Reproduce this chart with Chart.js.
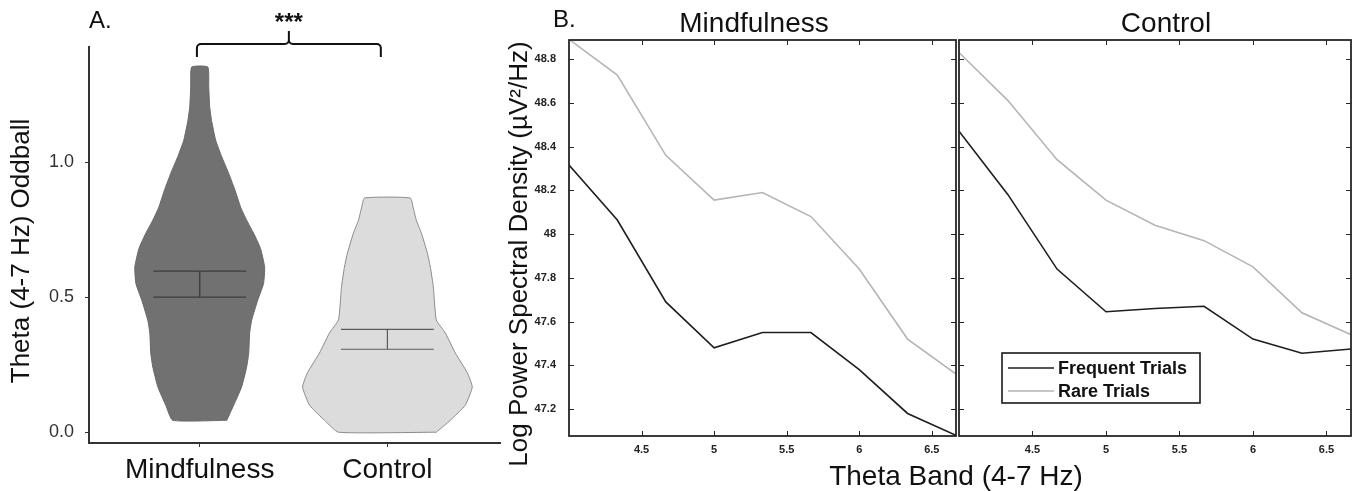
<!DOCTYPE html>
<html>
<head>
<meta charset="utf-8">
<script src="https://cdn.jsdelivr.net/npm/chart.js"></script>
<style>
body { margin: 0; background: #fff; width: 1360px; height: 491px; position: relative; overflow: hidden; }
canvas { position: absolute; top: 0; }
#violin { left: 0; }
#psdMind { left: 505px; }
#psdCtrl { left: 958px; }
</style>
</head>
<body>
<canvas id="violin" width="505" height="491"></canvas>
<canvas id="psdMind" width="855" height="491"></canvas>
<canvas id="psdCtrl" width="402" height="491"></canvas>
<script>
// Panel A: theta oddball effect per group (violin + mean/SE)
var groups = ["Mindfulness", "Control"];
var mindLevels  = [0.044, 0.10, 0.167, 0.241, 0.293, 0.367, 0.415, 0.489, 0.55, 0.611, 0.68, 0.737, 0.785, 0.833, 0.90, 0.959, 1.02, 1.081, 1.15, 1.204, 1.28, 1.352];
var mindDensity = [0.144, 0.181, 0.223, 0.250, 0.261, 0.266, 0.277, 0.309, 0.340, 0.346, 0.324, 0.287, 0.250, 0.218, 0.186, 0.154, 0.117, 0.085, 0.064, 0.053, 0.048, 0.043];
var ctrlLevels  = [0.0, 0.044, 0.10, 0.167, 0.22, 0.293, 0.367, 0.415, 0.489, 0.537, 0.611, 0.663, 0.737, 0.785, 0.83, 0.867];
var ctrlDensity = [0.261, 0.335, 0.415, 0.452, 0.426, 0.362, 0.309, 0.261, 0.250, 0.245, 0.229, 0.213, 0.181, 0.154, 0.138, 0.122];
var seUpper = [0.596, 0.381];
var seLower = [0.500, 0.307];
var violinTicks = [0, 0.5, 1.0];

// Panel B: log power spectral density over the theta band
var freqs = [4, 4.333, 4.667, 5, 5.333, 5.667, 6, 6.333, 6.667];
var mindFrequent = [48.315, 48.064, 47.69, 47.48, 47.55, 47.55, 47.38, 47.18, 47.08];
var mindRare     = [48.89, 48.727, 48.36, 48.155, 48.19, 48.08, 47.84, 47.52, 47.36];
var ctrlFrequent = [48.47, 48.18, 47.84, 47.645, 47.66, 47.67, 47.52, 47.455, 47.475];
var ctrlRare     = [48.83, 48.61, 48.34, 48.155, 48.04, 47.97, 47.85, 47.64, 47.54];
var psdTicks  = [47.2, 47.4, 47.6, 47.8, 48, 48.2, 48.4, 48.6, 48.8];
var bandTicks = [4.5, 5, 5.5, 6, 6.5];

var FONT = "'Liberation Sans', Arial, Helvetica, sans-serif";
Chart.defaults.font.family = FONT;

function violinOutline(pos, levels, dens) {
    var pts = [];
    for (var i = 0; i < levels.length; i++) {
        pts.push({x: pos + dens[i], y: levels[i]});
    }
    for (var j = levels.length - 1; j >= 0; j--) {
        pts.push({x: pos - dens[j], y: levels[j]});
    }
    pts.push(pts[0]);
    return pts;
}

function seBars(pos, up, lo) {
    var h = 0.247;
    return [
        {x: pos - h, y: up}, {x: pos + h, y: up}, {x: pos, y: null},
        {x: pos - h, y: lo}, {x: pos + h, y: lo}, {x: pos, y: null},
        {x: pos, y: up}, {x: pos, y: lo}
    ];
}

function xy(vals) {
    return freqs.map(function(f, i) { return {x: f, y: vals[i]}; });
}

function fixTicks(list) {
    return function(scale) {
        scale.ticks = list.map(function(v) { return {value: v}; });
    };
}

function text(ctx, str, x, y, font, align, color) {
    ctx.save();
    ctx.font = font;
    ctx.fillStyle = color || '#111';
    ctx.textAlign = align || 'left';
    ctx.textBaseline = 'alphabetic';
    ctx.fillText(str, x, y);
    ctx.restore();
}

function vtext(ctx, str, x, y, font) {
    ctx.save();
    ctx.translate(x, y);
    ctx.rotate(-Math.PI / 2);
    ctx.font = font;
    ctx.fillStyle = '#111';
    ctx.textAlign = 'center';
    ctx.textBaseline = 'middle';
    ctx.fillText(str, 0, 0);
    ctx.restore();
}

// panel A extras: letter, y title, significance bracket
var violinDecor = {
    id: 'violinDecor',
    afterDraw: function(chart) {
        var ctx = chart.ctx, ca = chart.chartArea, xs = chart.scales.x;
        text(ctx, 'A.', ca.left, ca.top - 19, '24px ' + FONT);
        vtext(ctx, 'Theta (4-7 Hz) Oddball', 22, 251, '26px ' + FONT);

        var l = xs.getPixelForValue(0.985), r = xs.getPixelForValue(1.965);
        var m = (l + r) / 2, top = ca.top - 3, leg = ca.top + 10, rad = 4;
        ctx.save();
        ctx.strokeStyle = '#111';
        ctx.lineWidth = 2;
        ctx.beginPath();
        ctx.moveTo(l, leg);
        ctx.arcTo(l, top, l + rad, top, rad);
        ctx.lineTo(m - rad, top);
        ctx.arcTo(m, top, m, top - rad, rad);
        ctx.lineTo(m, ca.top - 16);
        ctx.moveTo(m, top - rad);
        ctx.arcTo(m, top, m + rad, top, rad);
        ctx.lineTo(r - rad, top);
        ctx.arcTo(r, top, r, top + rad, rad);
        ctx.lineTo(r, leg);
        ctx.stroke();
        ctx.restore();
        text(ctx, '***', m, ca.top - 17, 'bold 24px ' + FONT, 'center');
    }
};

new Chart(document.getElementById('violin'), {
    type: 'scatter',
    data: {
        datasets: [
            {
                label: groups[0],
                data: violinOutline(1, mindLevels, mindDensity),
                showLine: true, fill: 'shape', tension: 0.15, order: 2,
                backgroundColor: '#717171', borderColor: '#686868', borderWidth: 1,
                pointRadius: 0
            },
            {
                label: groups[1],
                data: violinOutline(2, ctrlLevels, ctrlDensity),
                showLine: true, fill: 'shape', tension: 0.15, order: 2,
                backgroundColor: '#dcdcdc', borderColor: '#8a8a8a', borderWidth: 1,
                pointRadius: 0
            },
            {
                label: groups[0] + ' mean \u00b1 SE',
                data: seBars(1, seUpper[0], seLower[0]),
                showLine: true, spanGaps: false, fill: false, order: 1,
                borderColor: '#3c3c3c', borderWidth: 1.3, pointRadius: 0
            },
            {
                label: groups[1] + ' mean \u00b1 SE',
                data: seBars(2, seUpper[1], seLower[1]),
                showLine: true, spanGaps: false, fill: false, order: 1,
                borderColor: '#5a5a5a', borderWidth: 1.2, pointRadius: 0
            }
        ]
    },
    options: {
        responsive: false,
        animation: false,
        devicePixelRatio: 1,
        layout: { padding: { top: 47, right: 5, left: 0, bottom: 0 } },
        plugins: { legend: { display: false }, tooltip: { enabled: false } },
        scales: {
            x: {
                type: 'linear', min: 0.41, max: 2.6,
                afterBuildTicks: fixTicks([1, 2]),
                afterFit: function(s) { s.height = 48; },
                ticks: {
                    callback: function(v) { return groups[v - 1]; },
                    font: { size: 28 }, color: '#111', padding: 6,
                    maxRotation: 0, autoSkip: false
                },
                grid: { drawOnChartArea: false, drawTicks: true, tickLength: 4, color: '#333' },
                border: { color: '#333', width: 2 }
            },
            y: {
                min: -0.04, max: 1.426,
                afterBuildTicks: fixTicks(violinTicks),
                afterFit: function(s) { s.width = 89; },
                ticks: {
                    callback: function(v) { return v.toFixed(1); },
                    font: { size: 18 }, color: '#333', padding: 11
                },
                grid: { drawOnChartArea: false, drawTicks: true, tickLength: 4, color: '#333' },
                border: { color: '#333', width: 2 }
            }
        }
    },
    plugins: [violinDecor]
});

// MATLAB-like box with inward ticks, plus per-panel labels
var matlabBox = {
    id: 'matlabBox',
    afterDraw: function(chart, args, opts) {
        var ctx = chart.ctx, ca = chart.chartArea;
        var xs = chart.scales.x, ys = chart.scales.y, tl = 5;
        ctx.save();
        ctx.strokeStyle = '#262626';
        ctx.lineWidth = 1;
        ctx.beginPath();
        xs.ticks.forEach(function(t) {
            var px = Math.round(xs.getPixelForValue(t.value)) + 0.5;
            ctx.moveTo(px, ca.bottom); ctx.lineTo(px, ca.bottom - tl);
            ctx.moveTo(px, ca.top); ctx.lineTo(px, ca.top + tl);
        });
        ys.ticks.forEach(function(t) {
            var py = Math.round(ys.getPixelForValue(t.value)) + 0.5;
            ctx.moveTo(ca.left, py); ctx.lineTo(ca.left + tl, py);
            ctx.moveTo(ca.right, py); ctx.lineTo(ca.right - tl, py);
        });
        ctx.stroke();
        ctx.lineWidth = 1.8;
        ctx.strokeRect(ca.left, ca.top, ca.right - ca.left, ca.bottom - ca.top);
        ctx.restore();

        text(ctx, opts.title, ca.left + opts.titleDx, 32, '28px ' + FONT, 'center');
        if (opts.letter) {
            text(ctx, opts.letter, ca.left - 16, 27, '24px ' + FONT);
            vtext(ctx, 'Log Power Spectral Density (\u00b5V\u00b2/Hz)', ca.left - 49, (ca.top + ca.bottom) / 2 + 16, '26px ' + FONT);
            text(ctx, 'Theta Band (4-7 Hz)', ca.right, ca.bottom + 49, '28px ' + FONT, 'center');
        }
        if (opts.legend) {
            var bx = ca.left + 43, by = 353, bw = 198, bh = 50;
            ctx.save();
            ctx.fillStyle = '#fff';
            ctx.fillRect(bx, by, bw, bh);
            ctx.strokeStyle = '#1a1a1a';
            ctx.lineWidth = 1.6;
            ctx.strokeRect(bx, by, bw, bh);
            chart.data.datasets.forEach(function(ds, i) {
                var ly = by + 15 + i * 23;
                ctx.strokeStyle = ds.borderColor;
                ctx.lineWidth = ds.borderWidth;
                ctx.beginPath();
                ctx.moveTo(bx + 6, ly); ctx.lineTo(bx + 52, ly);
                ctx.stroke();
                ctx.font = 'bold 18px ' + FONT;
                ctx.fillStyle = '#111';
                ctx.textBaseline = 'middle';
                ctx.fillText(ds.label, bx + 56, ly + 1);
            });
            ctx.restore();
        }
    }
};

function psdChart(id, frequent, rare, pad, showY, boxOpts) {
    return new Chart(document.getElementById(id), {
        type: 'scatter',
        data: {
            datasets: [
                { label: 'Frequent Trials', data: xy(frequent), showLine: true, borderColor: '#1e1e1e', borderWidth: 1.6, pointRadius: 0, tension: 0 },
                { label: 'Rare Trials', data: xy(rare), showLine: true, borderColor: '#b5b5b5', borderWidth: 1.6, pointRadius: 0, tension: 0 }
            ]
        },
        options: {
            responsive: false,
            animation: false,
            devicePixelRatio: 1,
            layout: { padding: pad },
            plugins: { legend: { display: false }, tooltip: { enabled: false }, matlabBox: boxOpts },
            scales: {
                x: {
                    type: 'linear', min: 4, max: 6.6667,
                    afterBuildTicks: fixTicks(bandTicks),
                    afterFit: function(s) { s.height = 55; },
                    ticks: {
                        callback: function(v) { return String(v); },
                        font: { size: 11, weight: 'bold' }, color: '#222', padding: 7,
                        maxRotation: 0, autoSkip: false
                    },
                    grid: { drawOnChartArea: false, drawTicks: false },
                    border: { display: false }
                },
                y: {
                    min: 47.077, max: 48.887,
                    afterBuildTicks: fixTicks(psdTicks),
                    afterFit: function(s) { s.width = showY ? 64 : 0; },
                    ticks: {
                        display: showY,
                        callback: function(v) { return String(Number(v.toFixed(1))); },
                        font: { size: 11, weight: 'bold' }, color: '#222', padding: 13
                    },
                    grid: { drawOnChartArea: false, drawTicks: false },
                    border: { display: false }
                }
            }
        },
        plugins: [matlabBox]
    });
}

psdChart('psdMind', mindFrequent, mindRare, { top: 40, right: 404, left: 0, bottom: 0 }, true,
    { title: 'Mindfulness', titleDx: 185, letter: 'B.' });
psdChart('psdCtrl', ctrlFrequent, ctrlRare, { top: 40, right: 9, left: 1, bottom: 0 }, false,
    { title: 'Control', titleDx: 207, legend: true });
</script>
</body>
</html>
